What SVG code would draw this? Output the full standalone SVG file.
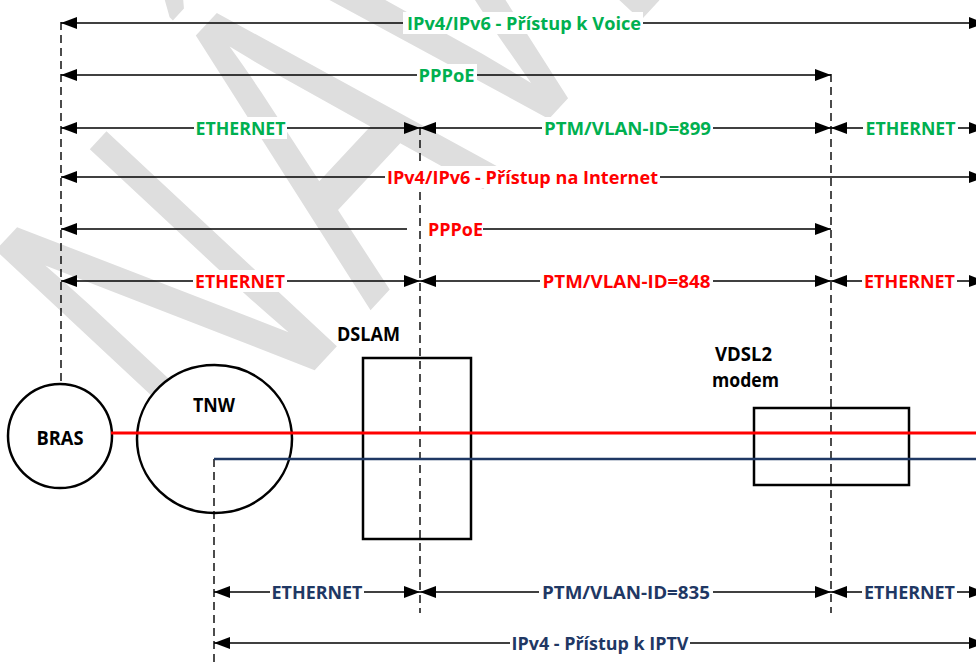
<svg xmlns="http://www.w3.org/2000/svg" width="976" height="664" viewBox="0 0 976 664">
<defs>
<marker id="ah" markerUnits="userSpaceOnUse" markerWidth="16" markerHeight="12" viewBox="0 0 16 12" refX="16" refY="6" orient="auto-start-reverse"><path d="M0,0 L16,6 L0,12 z" fill="#000"/></marker>
</defs>
<style>
.dim{stroke:#000;stroke-width:1.4;fill:none;marker-start:url(#ah);marker-end:url(#ah)}
.ds{stroke:#000;stroke-width:1.4;fill:none;marker-start:url(#ah)}
.de{stroke:#000;stroke-width:1.4;fill:none;marker-end:url(#ah)}
.dash{stroke:#000;stroke-width:1.4;stroke-dasharray:8 5;fill:none}
.lbl{font-family:'Open Sans','Liberation Sans',sans-serif;font-weight:bold;font-size:18px;text-anchor:middle}
.g{fill:#00b050}.r{fill:#ff0000}.b{fill:#1f3864}
.bg{fill:#fff}
.node{fill:#fff;stroke:#000;stroke-width:2.5}
.ntxt{font-family:'Open Sans','Liberation Sans',sans-serif;font-weight:bold;font-size:20px;fill:#000;text-anchor:middle}
.wm{font-family:'Liberation Sans',Arial,sans-serif;font-size:291px;fill:#dedede}
</style>
<rect width="976" height="664" fill="#fff"/>
<g id="watermark">
<text class="wm" transform="translate(353,329) rotate(-47) scale(1,1.574)" x="-210" y="0">N<tspan dx="25">Á</tspan><tspan dx="-15">V</tspan>RH</text>
</g>
<g id="BRAS">
<circle class="node" cx="60" cy="436" r="52"/>
<text class="ntxt" x="60" y="445" textLength="47" lengthAdjust="spacingAndGlyphs">BRAS</text>
</g>
<g id="TNW">
<ellipse class="node" cx="214.5" cy="439" rx="77.5" ry="74"/>
<text class="ntxt" x="214" y="412" textLength="42" lengthAdjust="spacingAndGlyphs">TNW</text>
</g>
<g id="DSLAM">
<rect class="node" x="363" y="358" width="108" height="181"/>
<text class="ntxt" x="368.5" y="341" textLength="63" lengthAdjust="spacingAndGlyphs">DSLAM</text>
</g>
<g id="VDSL2">
<rect class="node" x="754" y="408" width="155" height="77"/>
<text class="ntxt" x="743.5" y="361" textLength="57" lengthAdjust="spacingAndGlyphs">VDSL2</text>
<text class="ntxt" x="745.5" y="387" textLength="67" lengthAdjust="spacingAndGlyphs">modem</text>
</g>
<g id="boundaries">
<line class="dash" x1="61" y1="22" x2="61" y2="382"/>
<line class="dash" x1="420" y1="127" x2="420" y2="613"/>
<line class="dash" x1="831" y1="74" x2="831" y2="613"/>
<line class="dash" x1="214" y1="459" x2="214" y2="664"/>
</g>
<g id="connectors">
<line class="dim" x1="61" y1="23" x2="985" y2="23"/>
<line class="dim" x1="61" y1="75" x2="831" y2="75"/>
<line class="dim" x1="61" y1="128" x2="420" y2="128"/>
<line class="dim" x1="420" y1="128" x2="831" y2="128"/>
<line class="dim" x1="831" y1="128" x2="985" y2="128"/>
<line class="dim" x1="61" y1="177" x2="985" y2="177"/>
<line class="ds" x1="61" y1="229" x2="407" y2="229"/>
<line class="de" x1="483" y1="229" x2="831" y2="229"/>
<line class="dim" x1="61" y1="281" x2="420" y2="281"/>
<line class="dim" x1="420" y1="281" x2="831" y2="281"/>
<line class="dim" x1="831" y1="281" x2="985" y2="281"/>
<line class="dim" x1="214" y1="592" x2="420" y2="592"/>
<line class="dim" x1="420" y1="592" x2="831" y2="592"/>
<line class="dim" x1="831" y1="592" x2="985" y2="592"/>
<line class="dim" x1="214" y1="643" x2="985" y2="643"/>
<line x1="111" y1="433" x2="976" y2="433" stroke="#ff0000" stroke-width="3"/>
<line x1="214" y1="459" x2="976" y2="459" stroke="#1f3864" stroke-width="2.5"/>
</g>
<g id="labels">
<rect class="bg" x="403" y="12" width="240" height="22"/>
<text class="lbl g" x="524" y="30" textLength="234" lengthAdjust="spacingAndGlyphs">IPv4/IPv6 - Přístup k Voice</text>
<rect class="bg" x="417" y="64" width="60" height="22"/>
<text class="lbl g" x="446.5" y="82" textLength="56" lengthAdjust="spacingAndGlyphs">PPPoE</text>
<rect class="bg" x="194" y="117" width="93" height="22"/>
<text class="lbl g" x="240.5" y="135" textLength="90" lengthAdjust="spacingAndGlyphs">ETHERNET</text>
<rect class="bg" x="542" y="117" width="171" height="22"/>
<text class="lbl g" x="627.5" y="135" textLength="167" lengthAdjust="spacingAndGlyphs">PTM/VLAN-ID=899</text>
<rect class="bg" x="863" y="117" width="95" height="22"/>
<text class="lbl g" x="910.5" y="135" textLength="90" lengthAdjust="spacingAndGlyphs">ETHERNET</text>
<rect class="bg" x="385" y="166" width="275" height="22"/>
<text class="lbl r" x="522.5" y="184" textLength="271" lengthAdjust="spacingAndGlyphs">IPv4/IPv6 - Přístup na Internet</text>
<text class="lbl r" x="455.5" y="236" textLength="55" lengthAdjust="spacingAndGlyphs">PPPoE</text>
<rect class="bg" x="193" y="270" width="94" height="22"/>
<text class="lbl r" x="240" y="288" textLength="90" lengthAdjust="spacingAndGlyphs">ETHERNET</text>
<rect class="bg" x="540" y="270" width="173" height="22"/>
<text class="lbl r" x="626.5" y="288" textLength="168" lengthAdjust="spacingAndGlyphs">PTM/VLAN-ID=848</text>
<rect class="bg" x="862" y="270" width="95" height="22"/>
<text class="lbl r" x="909.5" y="288" textLength="91" lengthAdjust="spacingAndGlyphs">ETHERNET</text>
<rect class="bg" x="270" y="581" width="94" height="22"/>
<text class="lbl b" x="317" y="599" textLength="91" lengthAdjust="spacingAndGlyphs">ETHERNET</text>
<rect class="bg" x="539" y="581" width="174" height="22"/>
<text class="lbl b" x="626" y="599" textLength="168" lengthAdjust="spacingAndGlyphs">PTM/VLAN-ID=835</text>
<rect class="bg" x="862" y="581" width="95" height="22"/>
<text class="lbl b" x="909.5" y="599" textLength="91" lengthAdjust="spacingAndGlyphs">ETHERNET</text>
<rect class="bg" x="510" y="632" width="180" height="22"/>
<text class="lbl b" x="600" y="650" textLength="177" lengthAdjust="spacingAndGlyphs">IPv4 - Přístup k IPTV</text>
</g>
</svg>
